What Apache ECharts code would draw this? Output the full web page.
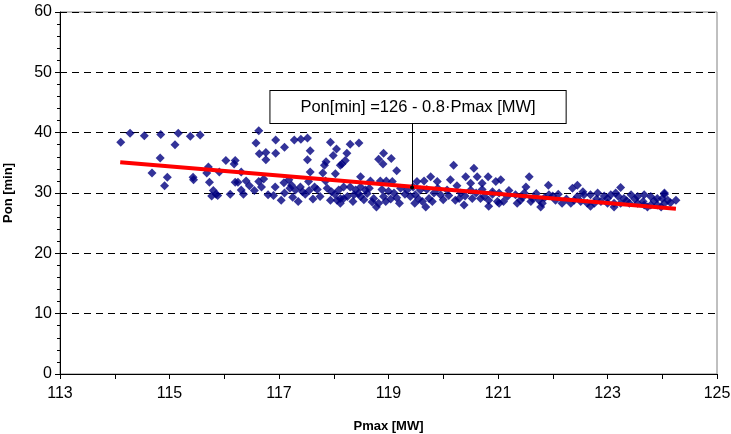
<!DOCTYPE html>
<html>
<head>
<meta charset="utf-8">
<script src="https://cdn.jsdelivr.net/npm/echarts@6/dist/echarts.min.js"></script>
<style>
  html, body { margin: 0; padding: 0; background: #fff; }
  #chart { width: 731px; height: 434px; }
</style>
</head>
<body>
<div id="chart"></div>
<script>
var pmaxValues = [
  114.11, 114.28, 114.54, 114.84, 115.16, 115.10, 115.38, 115.56, 114.83, 114.68,
  114.96, 114.91, 115.43, 115.44, 115.71, 115.68, 115.73, 115.80, 115.85, 115.77,
  115.88, 116.03, 115.91,
  116.63, 116.58, 116.94, 117.10, 117.28, 117.40, 117.52, 116.64, 116.76, 116.76,
  116.94, 117.57, 117.52, 117.94, 118.05, 117.99, 117.86, 117.83, 118.12, 116.20,
  116.18, 116.31, 116.20, 116.25, 116.11, 116.31, 116.35, 116.46, 116.63, 116.68,
  116.72, 116.80, 116.93, 117.04, 117.09, 117.18, 117.23, 117.30, 117.39, 117.43,
  117.48, 117.57, 117.54, 117.65, 117.70, 117.62, 117.80, 117.85, 117.88, 118.03,
  117.96, 118.02, 118.09, 118.06, 118.12, 117.94, 118.12,
  118.30, 118.46, 118.24, 118.21, 118.15, 118.91, 118.82, 118.90, 119.05, 119.15,
  118.49, 118.67, 118.85, 118.96, 119.07, 118.18, 118.30, 118.40, 118.49, 118.58,
  118.18, 118.37, 118.49, 118.61, 118.73, 118.82, 118.91, 119.04, 119.10, 118.78,
  119.22, 119.34, 119.40, 119.49, 119.58, 119.48, 119.62, 119.52, 119.65, 119.77,
  119.89, 119.68, 119.74, 119.83, 119.95, 120.07, 120.13, 120.19, 120.22,
  120.56, 120.41, 120.62, 120.82, 120.50, 120.71, 120.96, 121.05, 120.32, 120.50,
  120.71, 120.90, 121.02, 120.29, 120.53, 120.68, 120.83, 120.99, 121.17, 121.32,
  121.41, 120.38, 120.83, 121.02, 121.57, 121.51, 121.48, 121.63, 121.75, 121.81,
  121.93, 121.92, 122.05, 122.17, 122.33, 122.36, 121.78,
  122.45, 123.24, 122.57, 122.69, 122.82, 122.94, 123.06, 123.15, 123.30, 123.43,
  123.55, 123.67, 123.79, 123.91, 124.04, 124.10, 124.25, 122.39, 122.51, 122.63,
  122.76, 122.88, 123.00, 123.12, 123.24, 123.40, 123.55, 123.67, 123.79, 123.91,
  124.04, 122.69, 123.12, 123.73, 123.98, 124.04,
  118.25, 118.35, 118.45, 118.55, 118.65, 118.70, 118.88, 118.95, 119.00, 119.15,
  119.20, 119.30, 119.45, 119.55, 119.70, 119.80, 119.90, 120.00, 120.10, 120.25,
  120.40, 120.60, 120.75, 120.90, 121.10, 121.20, 121.35, 121.45, 121.60, 121.70,
  121.85, 122.00, 122.10, 122.25, 122.45, 122.55, 122.80, 123.00, 123.20, 123.35,
  123.50, 123.65, 123.85, 124.00, 124.15, 117.10, 117.25, 117.35, 117.55, 117.75,
  117.20, 116.90, 116.55, 116.40
];
var ponValues = [
  38.4, 39.9, 39.5, 39.7, 39.9, 38.0, 39.4, 39.6, 35.8, 33.3,
  32.6, 31.2, 32.6, 32.2, 34.3, 33.3, 31.8, 30.4, 29.8, 29.5,
  29.6, 35.4, 33.5,
  40.3, 38.3, 38.8, 37.6, 38.8, 38.9, 39.1, 36.5, 36.7, 35.5,
  36.6, 37.0, 35.5, 38.4, 37.3, 36.2, 35.2, 34.6, 34.6, 35.4,
  34.8, 33.5, 31.8, 31.8, 29.8, 30.5, 29.8, 31.2, 31.9, 31.0,
  32.3, 29.7, 31.0, 28.8, 31.7, 32.2, 31.3, 30.5, 31.0, 30.2,
  29.8, 33.5, 31.9, 31.0, 30.6, 29.0, 33.3, 32.0, 30.8, 33.2,
  30.2, 29.8, 30.5, 28.8, 29.1, 28.8, 28.3,
  38.1, 38.3, 36.6, 35.4, 34.8, 36.6, 35.6, 34.8, 35.7, 33.7,
  32.7, 32.0, 32.0, 32.0, 31.9, 31.0, 31.0, 30.5, 31.0, 30.5,
  29.1, 29.7, 29.4, 29.9, 29.1, 28.3, 29.4, 29.0, 30.0, 27.7,
  30.8, 30.5, 29.4, 29.7, 30.5, 28.3, 28.6, 31.9, 32.0, 32.7,
  31.9, 27.7, 29.1, 30.0, 29.7, 30.5, 32.2, 34.6, 28.8,
  34.1, 32.7, 32.7, 32.7, 31.6, 31.6, 31.9, 32.2, 30.0, 30.5,
  30.6, 30.2, 30.0, 29.1, 29.1, 29.1, 28.8, 28.6, 29.4, 29.7,
  28.8, 28.0, 27.8, 28.3, 32.7, 31.0, 30.0, 29.1, 28.8, 28.3,
  29.7, 31.3, 28.8, 28.3, 28.3, 30.8, 27.7,
  31.3, 30.9, 29.7, 29.7, 30.0, 29.5, 29.7, 30.0, 29.1, 29.7,
  29.4, 29.7, 29.4, 29.1, 29.8, 28.8, 28.8, 28.8, 28.6, 28.3,
  28.3, 28.6, 28.3, 28.3, 28.3, 28.3, 28.3, 28.0, 28.0, 28.0,
  28.3, 27.8, 27.7, 27.7, 27.7, 30.0,
  29.4, 28.6, 29.9, 28.9, 30.8, 28.5, 30.6, 28.6, 30.3, 29.2,
  28.3, 29.8, 31.0, 29.0, 30.6, 28.6, 30.8, 28.9, 29.6, 31.2,
  29.5, 30.0, 29.4, 29.8, 28.6, 30.4, 28.3, 29.3, 28.6, 29.9,
  29.2, 29.5, 29.8, 29.0, 29.4, 30.2, 29.0, 29.1, 29.4, 28.7,
  29.0, 28.6, 28.7, 29.1, 28.4, 30.0, 29.3, 28.6, 30.4, 29.4,
  30.8, 29.6, 30.4, 32.0
];

// fitted line end points as drawn
var fitPmax = [114.1, 124.25];
var fitPon = [35.1, 27.4];

// annotation leader: anchor on the fit line, bottom of the text box
var noteText = 'Pon[min] =126 - 0.8\u00B7Pmax [MW]';
var notePmax = 119.43;
var noteFrom = 30.9;
var noteTo = 41.6;

var xTicks = [113, 115, 117, 119, 121, 123, 125];

var points = pmaxValues.map(function (p, i) { return [p, ponValues[i]]; });
var fit = fitPmax.map(function (p, i) { return [p, fitPon[i]]; });

var chart = echarts.init(document.getElementById('chart'));
var font = 'Liberation Sans, Arial, sans-serif';

chart.setOption({
  animation: false,
  grid: {
    left: 60, right: 14, top: 12, bottom: 60,
    outerBoundsMode: 'none',
    containLabel: false,
    show: true, borderColor: '#808080', borderWidth: 1
  },
  xAxis: {
    type: 'value',
    min: 113, max: 125, interval: 1,
    name: 'Pmax [MW]',
    nameLocation: 'middle',
    nameGap: 46,
    nameTextStyle: { fontFamily: font, fontSize: 13, fontWeight: 'bold', color: '#000' },
    axisLine: { onZero: false, lineStyle: { color: '#000', width: 1 } },
    axisTick: { show: true, inside: false, length: 5, lineStyle: { color: '#000' } },
    axisLabel: {
      fontFamily: font, fontSize: 16, color: '#000', margin: 12,
      formatter: function (v) { return xTicks.indexOf(v) >= 0 ? String(v) : ''; }
    },
    splitLine: { show: false }
  },
  yAxis: {
    type: 'value',
    min: 0, max: 60, interval: 10,
    name: 'Pon [min]',
    nameLocation: 'middle',
    nameRotate: 90,
    nameGap: 45,
    nameTextStyle: { fontFamily: font, fontSize: 13, fontWeight: 'bold', color: '#000' },
    axisLine: { show: true, lineStyle: { color: '#000', width: 1 } },
    axisTick: { show: true, inside: false, length: 5, lineStyle: { color: '#000' } },
    minorTick: { show: true, splitNumber: 5, length: 3, lineStyle: { color: '#000' } },
    axisLabel: { fontFamily: font, fontSize: 16, color: '#000', margin: 8 },
    splitLine: { show: true, lineStyle: { color: '#000', type: [7, 5], width: 1 } }
  },
  series: [
    {
      type: 'scatter',
      data: points,
      symbol: 'diamond',
      symbolSize: 9,
      itemStyle: { color: '#000080' },
      z: 2
    },
    {
      type: 'line',
      data: fit,
      symbol: 'none',
      lineStyle: { color: '#ff0000', width: 4 },
      z: 3,
      markLine: {
        silent: true,
        symbol: ['circle', 'none'],
        symbolSize: [4, 4],
        lineStyle: { color: '#000', width: 1, type: 'solid' },
        label: {
          show: true,
          position: 'end',
          distance: 0,
          offset: [6, 0],
          formatter: noteText,
          fontFamily: font,
          fontSize: 16.5,
          color: '#000',
          backgroundColor: '#fff',
          borderColor: '#000',
          borderWidth: 1,
          padding: [8, 30, 7, 30]
        },
        data: [[
          { coord: [notePmax, noteFrom] },
          { coord: [notePmax, noteTo] }
        ]]
      }
    }
  ]
});
</script>
</body>
</html>
